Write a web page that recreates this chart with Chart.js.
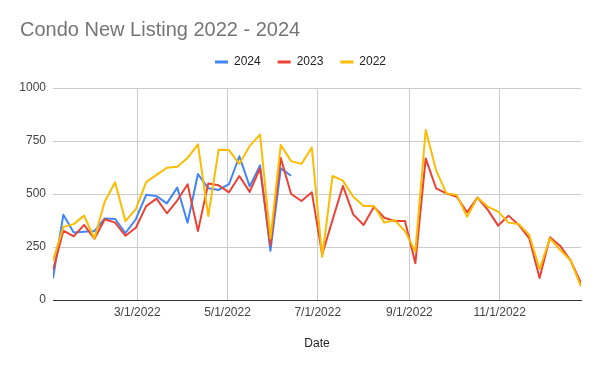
<!DOCTYPE html>
<html>
<head>
<meta charset="utf-8">
<script src="https://cdn.jsdelivr.net/npm/chart.js@4/dist/chart.umd.min.js"></script>
<style>
  html, body { margin: 0; padding: 0; background: #fff; }
  #wrap { width: 600px; height: 371px; position: relative; }
</style>
</head>
<body>
<div id="wrap"><canvas id="c"></canvas></div>
<script>
// Weekly dates (x categories)
const dates = [
  '1/3/2022','1/10/2022','1/17/2022','1/24/2022','1/31/2022',
  '2/7/2022','2/14/2022','2/21/2022','2/28/2022',
  '3/7/2022','3/14/2022','3/21/2022','3/28/2022',
  '4/4/2022','4/11/2022','4/18/2022','4/25/2022',
  '5/2/2022','5/9/2022','5/16/2022','5/23/2022','5/30/2022',
  '6/6/2022','6/13/2022','6/20/2022','6/27/2022',
  '7/4/2022','7/11/2022','7/18/2022','7/25/2022',
  '8/1/2022','8/8/2022','8/15/2022','8/22/2022','8/29/2022',
  '9/5/2022','9/12/2022','9/19/2022','9/26/2022',
  '10/3/2022','10/10/2022','10/17/2022','10/24/2022','10/31/2022',
  '11/7/2022','11/14/2022','11/21/2022','11/28/2022',
  '12/5/2022','12/12/2022','12/19/2022','12/26/2022'
];

// Series values
const values2024 = [102, 402, 318, 322, 325, 385, 382, 316, 381, 496, 490, 456,
  530, 364, 594, 527, 519, 546, 678, 536, 635, 232, 621, 586];

const values2023 = [141, 327, 300, 354, 289, 381, 365, 303, 341, 443, 478, 409,
  469, 546, 325, 550, 541, 508, 585, 510, 621, 258, 670, 500, 467, 508,
  215, 377, 538, 404, 354, 440, 388, 373, 373, 173, 668, 527, 503, 487,
  414, 483, 425, 351, 398, 354, 291, 104, 296, 255, 186, 79];

const values2022 = [185, 345, 358, 398, 290, 465, 555, 372, 429, 556, 590, 624,
  629, 670, 734, 396, 709, 707, 642, 727, 780, 290, 731, 655, 642, 719,
  203, 585, 563, 487, 443, 443, 365, 377, 325, 228, 802, 613, 503, 495,
  393, 483, 440, 417, 365, 358, 307, 146, 291, 236, 186, 63];

const seriesNames = ['2024', '2023', '2022'];
const seriesColors = ['#4285F4', '#EA4335', '#FBBC04'];

// Axis tick labels
const xTickLabels = ['3/1/2022', '5/1/2022', '7/1/2022', '9/1/2022', '11/1/2022'];
const yTickValues = [0, 250, 500, 750, 1000];

const titleText = 'Condo New Listing 2022 - 2024';
const xTitleText = 'Date';

// Convert a M/D/YYYY string into day offset from Jan 1, 2022
function dayOf(s) {
  const [m, d, y] = s.split('/').map(Number);
  return (Date.UTC(y, m - 1, d) - Date.UTC(2022, 0, 1)) / 86400000;
}
const xDays = dates.map(dayOf);
const xTickDays = xTickLabels.map(dayOf);

function toPoints(vals) {
  return vals.map((v, i) => ({ x: xDays[i], y: v }));
}

const allValues = [values2024, values2023, values2022];
const datasets = allValues.map((vals, i) => ({
  label: seriesNames[i],
  data: toPoints(vals),
  borderColor: seriesColors[i],
  backgroundColor: seriesColors[i],
  borderWidth: 2,
  pointRadius: 0,
  pointHoverRadius: 0,
  tension: 0,
  borderJoinStyle: 'round',
  fill: false,
  order: 3 - i
}));

const legendHeightPlugin = {
  id: 'legendHeight',
  beforeLayout(chart) {
    const lg = chart.legend;
    if (lg && !lg._patched) {
      const orig = lg.fit;
      lg.fit = function () { orig.call(this); this.height = 49; };
      lg._patched = true;
    }
  }
};

const FONT = "'Liberation Sans', Arial, sans-serif";

new Chart(document.getElementById('c'), {
  type: 'line',
  data: { datasets },
  plugins: [legendHeightPlugin],
  options: {
    responsive: true,
    maintainAspectRatio: false,
    animation: false,
    devicePixelRatio: 1,
    layout: { padding: { left: 20, right: 19, top: 0, bottom: 0 } },
    plugins: {
      title: {
        display: true,
        text: titleText,
        align: 'start',
        color: '#757575',
        font: { family: FONT, size: 20, weight: 'normal', lineHeight: 0.85 },
        padding: { top: 22, bottom: 0 }
      },
      legend: {
        display: true,
        position: 'top',
        align: 'center',
        labels: {
          color: '#222',
          font: { family: FONT, size: 12 },
          boxWidth: 13,
          boxHeight: 3,
          padding: 17,
          sort: (a, b) => a.datasetIndex - b.datasetIndex,
          generateLabels(chart) {
            const items = Chart.defaults.plugins.legend.labels.generateLabels(chart);
            items.forEach(it => { it.lineWidth = 0; it.fillStyle = it.strokeStyle; });
            return items;
          }
        }
      },
      tooltip: { enabled: false }
    },
    scales: {
      x: {
        type: 'linear',
        min: xDays[0],
        max: xDays[xDays.length - 1],
        bounds: 'data',
        offset: false,
        afterBuildTicks(scale) {
          scale.ticks = xTickDays.map(v => ({ value: v }));
        },
        afterFit(scale) { scale.height = 71; },
        ticks: {
          autoSkip: false,
          maxRotation: 0,
          minRotation: 0,
          padding: 5,
          color: '#444',
          font: { family: FONT, size: 12 },
          callback: (value, index) => xTickLabels[index]
        },
        grid: { color: '#cccccc', drawTicks: false, lineWidth: 1 },
        border: { display: true, color: '#333333', width: 1 },
        title: {
          display: true,
          text: xTitleText,
          color: '#222',
          font: { family: FONT, size: 12, lineHeight: 1.2 },
          padding: { top: 4, bottom: 20 }
        }
      },
      y: {
        min: 0,
        max: 1000,
        afterBuildTicks(scale) {
          scale.ticks = yTickValues.map(v => ({ value: v }));
        },
        afterFit(scale) { scale.width = 33; },
        ticks: {
          padding: 7,
          color: '#444',
          font: { family: FONT, size: 12 },
          callback: (value) => String(value)
        },
        grid: {
          drawTicks: false,
          color: (ctx) => (ctx.tick && ctx.tick.value === 0) ? '#333333' : '#cccccc',
          lineWidth: 1
        },
        border: { display: false }
      }
    }
  }
});
</script>
</body>
</html>
